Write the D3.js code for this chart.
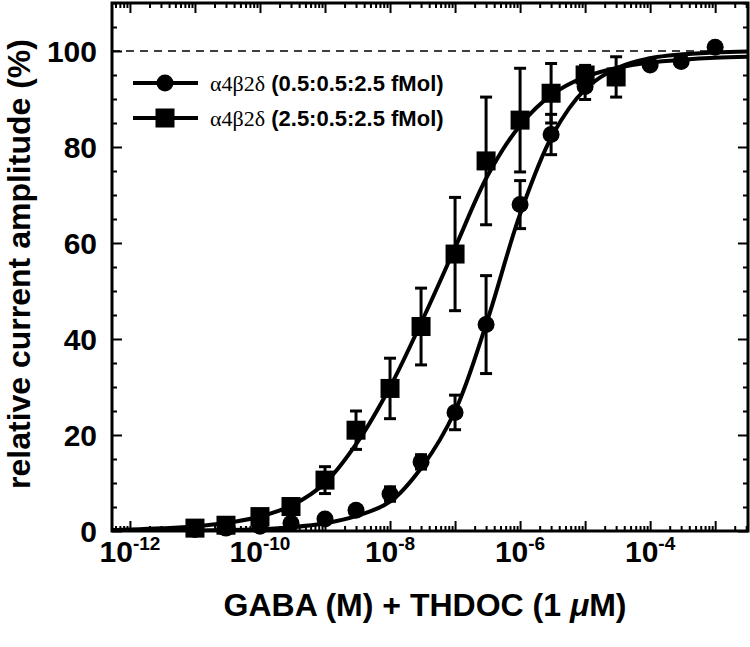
<!DOCTYPE html>
<html><head><meta charset="utf-8">
<script src="https://cdn.jsdelivr.net/npm/d3@7"></script>
<style>body{margin:0;background:#fff}</style>
</head><body>
<svg id="c" width="750" height="647"></svg>
<script>
// ---- data ----
const concentrations = [1e-11,3e-11,1e-10,3e-10,1e-9,3e-9,1e-8,3e-8,1e-7,3e-7,1e-6,3e-6,1e-5,3e-5,1e-4,3e-4,1e-3];
const circleValues = [0.3,0.6,1.0,1.6,2.5,4.3,7.7,14.4,24.7,43.0,68.0,82.6,92.6,94.5,97.1,97.8,100.8];
const circleErrors = [0.3,0.3,0.4,0.5,0.6,0.8,1.5,1.5,3.6,10.2,5.0,4.2,2.7,1.5,0.8,0.6,0.6];
const squareConc = [1e-11,3e-11,1e-10,3e-10,1e-9,3e-9,1e-8,3e-8,1e-7,3e-7,1e-6,3e-6,1e-5,3e-5];
const squareValues = [0.6,1.2,3.0,5.1,10.6,21.0,29.7,42.6,57.7,77.1,85.6,91.2,95.0,94.6];
const squareErrors = [0.4,0.5,1.0,1.5,2.8,4.0,6.3,8.0,11.8,13.3,10.8,6.2,2.0,4.2];
const fitConc = [3.16e-13,1e-12,3.16e-12,1e-11,3.16e-11,1e-10,3.16e-10,1e-9,3.16e-9,1e-8,3.16e-8,1e-7,3.16e-7,1e-6,3.16e-6,1e-5,3.16e-5,1e-4,3.16e-4,1e-3,3.16e-3];
const fitCircle = [0.0,0.0,0.05,0.1,0.2,0.4,0.8,1.6,3.2,6.1,13.5,25.0,44.0,66.0,82.5,92.0,96.5,98.5,99.3,99.7,99.9];
const fitSquare = [0.15,0.3,0.55,0.95,1.7,3.0,5.4,10.0,18.5,30.0,44.0,59.0,74.0,84.5,91.0,94.6,96.5,97.6,98.2,98.6,98.8];
const yTickValues = [0,20,40,60,80,100];
const xTickValues = [1e-12,1e-10,1e-8,1e-6,1e-4];
const xTickExponents = ["-12","-10","-8","-6","-4"];
const legendLabels = ["(0.5:0.5:2.5 fMol)","(2.5:0.5:2.5 fMol)"];
const referenceLevel = 100;

// ---- layout ----
const margin = {left:112, top:3, right:2, bottom:116};
const W = 750, H = 647;
const w = W - margin.left - margin.right, h = H - margin.top - margin.bottom;
const SANS = "'Liberation Sans', Arial, Helvetica, sans-serif";

const svg = d3.select("#c");
const g = svg.append("g").attr("transform",`translate(${margin.left},${margin.top})`);

const x = d3.scaleLog().domain([5.3e-13, 3.2e-3]).range([0, w]);
const y = d3.scaleLinear().domain([0, 110]).range([h, 0]);

svg.append("defs").append("clipPath").attr("id","clip")
  .append("rect").attr("width", w).attr("height", h);

// minor ticks
const xMinor = [];
for (let e = -13; e <= -3; e++) for (let m = 2; m <= 9; m++) {
  const v = m * Math.pow(10, e);
  if (v > x.domain()[0] && v < x.domain()[1]) xMinor.push(v);
}
const xMajor = [];
for (let e = -12; e <= -3; e++) xMajor.push(Math.pow(10, e));
const yMinor = d3.range(0, 111, 5).filter(v => v % 20 !== 0);
const yMajor = d3.range(0, 111, 20);

function addAxis(axis, tr) {
  const a = g.append("g").attr("transform", tr).call(axis);
  a.select(".domain").remove();
  a.selectAll("line").attr("stroke","#000").attr("stroke-width",2);
  a.selectAll("text").remove();
}
addAxis(d3.axisBottom(x).tickValues(xMajor).tickSize(-10), `translate(0,${h})`);
addAxis(d3.axisBottom(x).tickValues(xMinor).tickSize(-5), `translate(0,${h})`);
addAxis(d3.axisTop(x).tickValues(xMajor).tickSize(-10), `translate(0,0)`);
addAxis(d3.axisTop(x).tickValues(xMinor).tickSize(-5), `translate(0,0)`);
addAxis(d3.axisLeft(y).tickValues(yMajor).tickSize(-10), `translate(0,0)`);
addAxis(d3.axisLeft(y).tickValues(yMinor).tickSize(-5), `translate(0,0)`);
addAxis(d3.axisRight(y).tickValues(yMajor).tickSize(-10), `translate(${w},0)`);
addAxis(d3.axisRight(y).tickValues(yMinor).tickSize(-5), `translate(${w},0)`);

// dashed reference line
g.append("line").attr("x1",0).attr("x2",w).attr("y1",y(referenceLevel)).attr("y2",y(referenceLevel))
  .attr("stroke","#000").attr("stroke-width",1.5).attr("stroke-dasharray","8,6");

// y tick labels
g.selectAll(".ylab").data(yTickValues).enter().append("text")
  .attr("x",-15).attr("y",d=>y(d)).attr("dy","0.36em")
  .attr("text-anchor","end").attr("font-family",SANS).attr("font-weight","bold")
  .attr("font-size",30).text(d=>d);

// x tick labels with superscripts
xTickValues.forEach((v,i)=>{
  const t = g.append("text").attr("x", x(v)).attr("y", h+31)
    .attr("text-anchor","middle").attr("font-family",SANS).attr("font-weight","bold").attr("font-size",30);
  t.append("tspan").text("10");
  t.append("tspan").attr("font-size",19).attr("dy",-12).text(xTickExponents[i]);
});

// axis titles
svg.append("text").attr("x", 425).attr("y", 616).attr("text-anchor","middle")
  .attr("font-family",SANS).attr("font-weight","bold").attr("font-size",32)
  .call(t=>{
    t.append("tspan").text("GABA (M) + THDOC (1 ");
    t.append("tspan").attr("font-style","italic").text("\u03bc");
    t.append("tspan").text("M)");
  });
svg.append("text").attr("transform","translate(30,264) rotate(-90)").attr("text-anchor","middle")
  .attr("font-family",SANS).attr("font-weight","bold").attr("font-size",32)
  .text("relative current amplitude (%)");

// error bars
function errBars(cls, xs, vals, errs) {
  const cap = 6;
  const eg = g.append("g").attr("class",cls).attr("stroke","#000").attr("stroke-width",3).attr("fill","none");
  xs.forEach((c,i)=>{
    const xx = x(c), y1 = y(vals[i]-errs[i]), y2 = y(vals[i]+errs[i]);
    eg.append("line").attr("x1",xx).attr("x2",xx).attr("y1",y1).attr("y2",y2);
    eg.append("line").attr("x1",xx-cap).attr("x2",xx+cap).attr("y1",y1).attr("y2",y1);
    eg.append("line").attr("x1",xx-cap).attr("x2",xx+cap).attr("y1",y2).attr("y2",y2);
  });
}
errBars("ec", concentrations, circleValues, circleErrors);
errBars("es", squareConc, squareValues, squareErrors);

// fitted curves
const line = d3.line().x(d=>x(d[0])).y(d=>y(d[1])).curve(d3.curveCatmullRom.alpha(0.5));
const cg = g.append("g").attr("clip-path","url(#clip)");
cg.append("path").datum(fitConc.map((c,i)=>[c,fitCircle[i]])).attr("d",line)
  .attr("fill","none").attr("stroke","#000").attr("stroke-width",4);
cg.append("path").datum(fitConc.map((c,i)=>[c,fitSquare[i]])).attr("d",line)
  .attr("fill","none").attr("stroke","#000").attr("stroke-width",4);

// markers
g.selectAll(".pc").data(concentrations.map((c,i)=>[c,circleValues[i]])).enter().append("circle")
  .attr("cx",d=>x(d[0])).attr("cy",d=>y(d[1])).attr("r",8.5).attr("fill","#000");
const S = 19;
g.selectAll(".ps").data(squareConc.map((c,i)=>[c,squareValues[i]])).enter().append("rect")
  .attr("x",d=>x(d[0])-S/2).attr("y",d=>y(d[1])-S/2).attr("width",S).attr("height",S).attr("fill","#000");

// frame
g.append("rect").attr("width",w).attr("height",h).attr("fill","none").attr("stroke","#000").attr("stroke-width",3);

// legend
const legRows = [83, 118];
legendLabels.forEach((lab,i)=>{
  const ly = legRows[i];
  svg.append("line").attr("x1",133).attr("x2",198).attr("y1",ly).attr("y2",ly).attr("stroke","#000").attr("stroke-width",4);
  if (i===0) svg.append("circle").attr("cx",165).attr("cy",ly).attr("r",8.5).attr("fill","#000");
  else svg.append("rect").attr("x",165-S/2).attr("y",ly-S/2).attr("width",S).attr("height",S).attr("fill","#000");
  const t = svg.append("text").attr("x",210).attr("y",ly+8).attr("font-size",22);
  t.append("tspan").attr("font-family","'Liberation Serif', 'Times New Roman', serif").text("\u03b14\u03b22\u03b4");
  t.append("tspan").attr("font-family",SANS).attr("font-weight","bold").text(" " + lab);
});
</script>
</body></html>
